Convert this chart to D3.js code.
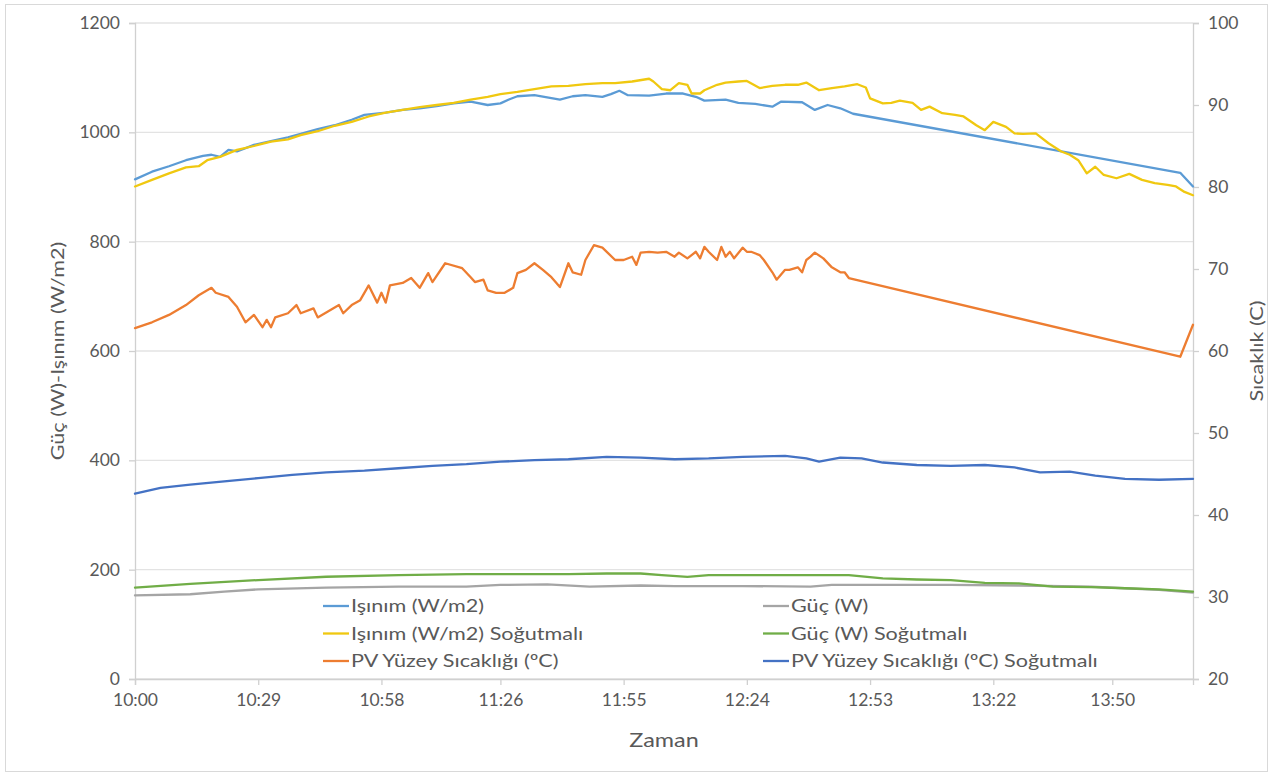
<!DOCTYPE html>
<html>
<head>
<meta charset="utf-8">
<script src="https://cdn.jsdelivr.net/npm/d3@7"></script>
<style>
  body { margin: 0; background: #fff; }
  svg text { font-family: Lato, "Open Sans", sans-serif; fill: #595959; }
</style>
</head>
<body>
<div id="chart"></div>
<script>
/* CONSTANTS AND GLOBALS */
const width = 1273,
  height = 776,
  margin = { top: 23, bottom: 97, left: 135, right: 78 },
  stretch = 1.2; // the original text looks wider than Lato

// x tick positions (minutes after 10:00) and their labels
const tickMinutes = [0, 29, 58, 86, 115, 144, 173, 202, 230];
const tickLabels = ["10:00", "10:29", "10:58", "11:26", "11:55", "12:24", "12:53", "13:22", "13:50"];

// Işınım (W/m2)
const irrT = [0,4,8,12,16,18,20,22,24,28,32,36,39,43,47,51,54,59,63,67,71,75,79,83,86,88,90,94,97,100,103,106,110,112,114,116,121,125,129,132,134,139,142,146,150,152,157,160,163,166,169,246,249];
const irrV = [914,928,938,949,957,959,955,968,965,977,984,991,997,1006,1013,1023,1032,1036,1041,1044,1048,1053,1056,1050,1053,1060,1066,1068,1064,1060,1066,1068,1065,1070,1076,1068,1067,1071,1071,1065,1058,1060,1054,1052,1047,1056,1055,1041,1050,1044,1034,926,901];

// Işınım (W/m2) Soğutmalı
const irrCoolT = [0,4,8,12,15,17,20,24,28,32,36,39,43,47,51,55,59,63,67,71,75,79,83,86,90,94,98,102,106,110,113,117,121,122,124,126,128,130,131,133,134,137,139,142,144,147,150,153,156,158,161,164,167,170,172,173,176,178,180,183,185,187,190,193,195,198,200,202,205,207,209,212,215,218,220,222,224,226,228,231,234,237,240,243,245,247,249];
const irrCoolV = [901,913,925,936,938,949,955,968,975,983,987,995,1002,1012,1019,1029,1036,1041,1046,1050,1054,1060,1065,1070,1074,1079,1084,1085,1088,1090,1090,1093,1098,1093,1079,1077,1090,1087,1071,1071,1077,1087,1091,1093,1094,1081,1085,1087,1087,1091,1077,1081,1084,1088,1082,1062,1053,1054,1058,1054,1041,1047,1035,1032,1029,1013,1004,1019,1010,998,997,998,980,965,959,949,925,937,922,916,924,913,907,904,901,891,885];

// PV Yüzey Sıcaklığı (ºC)
const tempT = [0,4,8,12,15,18,19,22,24,26,28,30,31,32,33,36,38,39,42,43,46,48,49,51,53,55,57,58,59,60,63,65,67,69,70,73,77,79,80,82,83,85,87,89,90,92,94,96,98,100,102,103,105,106,108,110,113,115,117,118,119,121,123,125,127,128,130,131,132,133,134,135,137,138,139,140,141,143,144,145,147,148,150,151,153,154,156,157,158,159,160,162,164,166,167,168,246,249];
const tempV = [62.8,63.5,64.4,65.6,66.8,67.7,67.1,66.6,65.4,63.5,64.4,62.9,63.8,62.9,64.1,64.6,65.6,64.6,65.2,64.1,65.0,65.6,64.6,65.6,66.2,68.0,65.9,67.1,65.9,68.0,68.3,68.9,67.7,69.5,68.4,70.7,70.1,69.0,68.4,68.7,67.4,67.1,67.1,67.7,69.5,69.9,70.7,69.9,69.0,67.8,70.7,69.6,69.3,71.1,72.9,72.6,71.1,71.1,71.5,70.5,72.0,72.1,72.0,72.1,71.5,72.0,71.3,71.7,72.1,71.3,72.7,72.1,71.1,72.7,71.5,72.1,71.3,72.6,72.1,72.1,71.7,71.1,69.6,68.7,69.9,69.9,70.2,69.6,71.1,71.5,72.0,71.3,70.2,69.6,69.6,68.9,59.3,63.2];

// PV Yüzey Sıcaklığı (ºC) Soğutmalı
const tempCoolT = [0,6,13,21,29,37,45,54,62,70,78,86,94,102,111,119,127,135,143,153,158,161,166,171,176,184,192,200,207,213,220,226,233,241,249];
const tempCoolV = [42.6,43.3,43.7,44.1,44.5,44.9,45.2,45.4,45.7,46.0,46.2,46.5,46.7,46.8,47.1,47.0,46.8,46.9,47.1,47.2,46.9,46.5,47.0,46.9,46.4,46.1,46.0,46.1,45.8,45.2,45.3,44.8,44.4,44.3,44.4];

// Güç (W)
const powerT = [0,13,21,29,45,62,78,86,97,107,119,127,143,159,164,176,192,208,225,233,241,249];
const powerV = [153,155,160,164,167,169,169,172,173,169,171,170,170,169,172,172,172,171,169,166,163,158];

// Güç (W) Soğutmalı
const powerCoolT = [0,13,29,45,62,78,94,102,111,119,124,130,135,143,151,159,168,176,184,192,200,208,216,225,233,241,249];
const powerCoolV = [167,174,181,187,190,192,192,192,193,193,190,187,190,190,190,190,190,184,182,181,176,175,169,168,166,164,160];

// series in Excel drawing order
const series = [
  { name: "Işınım (W/m2)", t: irrT, v: irrV, axis: "left", color: "#5B9BD5" },
  { name: "PV Yüzey Sıcaklığı (ºC)", t: tempT, v: tempV, axis: "right", color: "#ED7D31" },
  { name: "Güç (W)", t: powerT, v: powerV, axis: "left", color: "#A5A5A5" },
  { name: "Işınım (W/m2) Soğutmalı", t: irrCoolT, v: irrCoolV, axis: "left", color: "#F0C810" },
  { name: "PV Yüzey Sıcaklığı (ºC) Soğutmalı", t: tempCoolT, v: tempCoolV, axis: "right", color: "#4472C4" },
  { name: "Güç (W) Soğutmalı", t: powerCoolT, v: powerCoolV, axis: "left", color: "#70AD47" }
];

// legend goes row by row: primary series first, then secondary
const legendOrder = [0, 2, 3, 5, 1, 4];

const svg = d3.select("#chart").append("svg")
  .attr("width", width)
  .attr("height", height);

// chart area border
svg.append("rect")
  .attr("x", 5.5).attr("y", 4.5)
  .attr("width", 1262).attr("height", 767)
  .attr("fill", "none")
  .attr("stroke", "#d9d9d9");

// SCALES
const xScale = d3.scaleLinear()
  .domain([0, 249])
  .range([margin.left, width - margin.right - 2]);

const yLeft = d3.scaleLinear()
  .domain([0, 1200])
  .range([height - margin.bottom, margin.top]);

const yRight = d3.scaleLinear()
  .domain([20, 100])
  .range([height - margin.bottom, margin.top]);

const x0 = xScale.range()[0], x1 = xScale.range()[1];

// gridlines
svg.append("g")
  .selectAll("line")
  .data(yLeft.ticks(6))
  .join("line")
  .attr("x1", x0).attr("x2", x1)
  .attr("y1", d => yLeft(d)).attr("y2", d => yLeft(d))
  .attr("stroke", "#e3e3e3")
  .attr("stroke-width", 1.3);

// AXES
const xAxis = d3.axisBottom(xScale)
  .tickValues(tickMinutes)
  .tickFormat((d, i) => tickLabels[i])
  .tickSize(6)
  .tickPadding(9);

const yAxisL = d3.axisLeft(yLeft).ticks(6, "d").tickSize(6).tickPadding(9);
const yAxisR = d3.axisRight(yRight).ticks(8).tickSize(6).tickPadding(9);

function styleAxis(g) {
  g.select(".domain").attr("stroke", "#d0d0d0").attr("stroke-width", 1.3);
  g.selectAll(".tick line").attr("stroke", "#d0d0d0").attr("stroke-width", 1.3);
  g.selectAll(".tick text")
    .attr("font-size", 17.5)
    .style("font-family", "Lato, sans-serif")
    .attr("fill", "#595959");
}

svg.append("g")
  .attr("transform", `translate(0, ${height - margin.bottom})`)
  .call(xAxis)
  .call(styleAxis);

svg.append("g")
  .attr("transform", `translate(${x0}, 0)`)
  .call(yAxisL)
  .call(styleAxis);

svg.append("g")
  .attr("transform", `translate(${x1}, 0)`)
  .call(yAxisR)
  .call(styleAxis);

// axis titles
svg.append("text")
  .attr("transform", `translate(${(x0 + x1) / 2}, 747) scale(${stretch},1)`)
  .attr("text-anchor", "middle")
  .attr("font-size", 19.5)
  .text("Zaman");

svg.append("text")
  .attr("transform", `translate(64, ${(yLeft(0) + yLeft(1200)) / 2}) rotate(-90) scale(${stretch},1)`)
  .attr("text-anchor", "middle")
  .attr("font-size", 18)
  .text("Güç (W)-Işınım (W/m2)");

svg.append("text")
  .attr("transform", `translate(1263, ${(yRight(20) + yRight(100)) / 2}) rotate(-90) scale(${stretch},1)`)
  .attr("text-anchor", "middle")
  .attr("font-size", 18)
  .text("Sıcaklık (C)");

// LINES
const lineFor = s => {
  const yS = s.axis === "left" ? yLeft : yRight;
  return d3.line()
    .x((d, i) => xScale(s.t[i]))
    .y(d => yS(d));
};

svg.append("g")
  .selectAll("path")
  .data(series)
  .join("path")
  .attr("d", s => lineFor(s)(s.v))
  .attr("fill", "none")
  .attr("stroke", s => s.color)
  .attr("stroke-width", 2.3)
  .attr("stroke-linejoin", "round")
  .attr("stroke-linecap", "round");

// LEGEND
const legend = svg.append("g");
const legendItems = legend.selectAll("g")
  .data(legendOrder.map(i => series[i]))
  .join("g")
  .attr("transform", (d, i) => `translate(${i % 2 === 0 ? 323 : 763}, ${606 + Math.floor(i / 2) * 27.5})`);

legendItems.append("line")
  .attr("x1", 0).attr("x2", 26)
  .attr("y1", 0).attr("y2", 0)
  .attr("stroke", d => d.color)
  .attr("stroke-width", 2.3);

legendItems.append("text")
  .attr("transform", `translate(28, 0) scale(${stretch},1)`)
  .attr("dy", "0.35em")
  .attr("font-size", 18)
  .text(d => d.name);
</script>
</body>
</html>
